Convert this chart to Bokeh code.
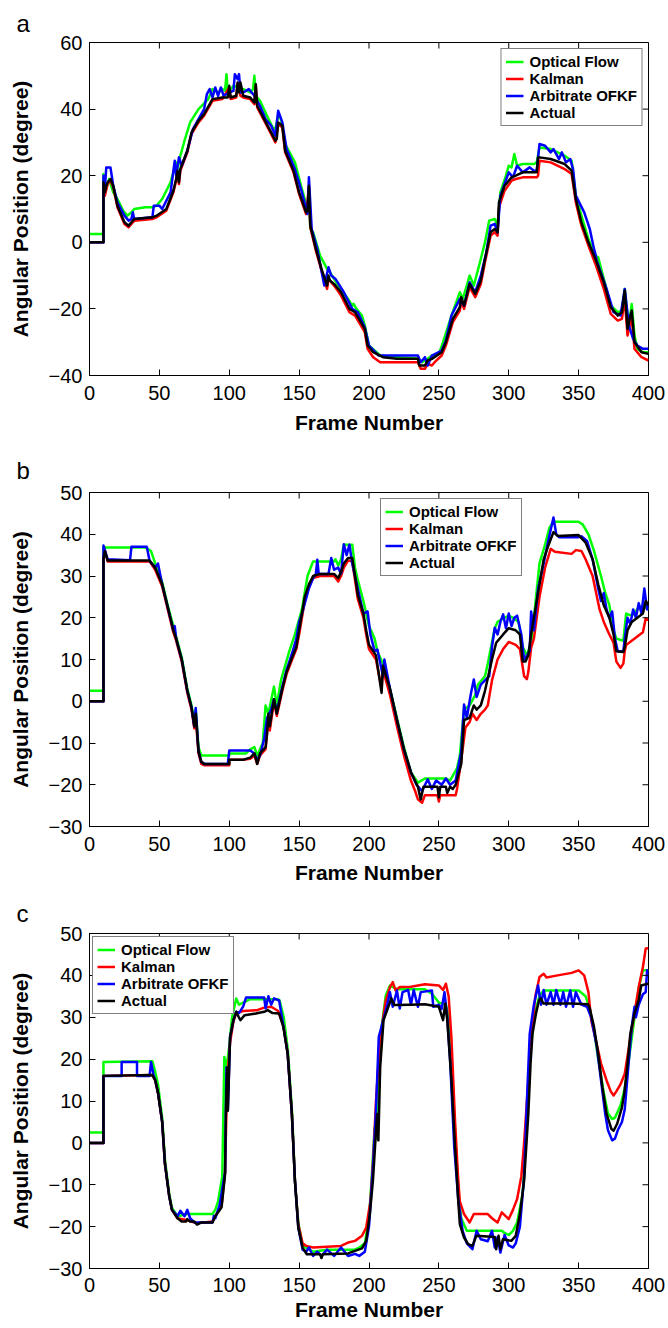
import math
from bokeh.plotting import figure
from bokeh.layouts import column
from bokeh.models import Range1d, FixedTicker, Legend, LegendItem
from bokeh.embed import file_html
from bokeh.resources import INLINE

FONT = "Liberation Sans"
SERIES = ["Optical Flow", "Kalman", "Arbitrate OFKF", "Actual"]
COLORS = ["#00ff00", "#ff0000", "#0000ff", "#000000"]
X_TICKS = [0, 50, 100, 150, 200, 250, 300, 350, 400]
A_Y_TICKS = [-40, -20, 0, 20, 40, 60]
BC_Y_TICKS = [-30, -20, -10, 0, 10, 20, 30, 40, 50]
X_LABEL = "Frame Number"
Y_LABEL = "Angular Position (degree)"

# ---------------- panel a (frame, degree) ----------------
a_optical_flow = [(0,2.5),(10,2.5),(10,20.5),(12,16),(14,19),(17,15),(20,13),(24,9.5),(27,8),(30,9),(32,10),(40,10.5),(45,10.5),(48,11),(52,13),(58,18),(62,24),(63,22),(65,26),(68,30.5),(72,36),(78,40),(85,43),(88,46),(92,45),(95,46),(97,45.5),(98,50.5),(99,45),(103,47),(110,46),(115,45),(117,46),(118,50),(119,44),(122,42.5),(127,38),(131,34.5),(133,34),(135,38),(137,37),(140,29.5),(147,24),(152,16),(156,10),(157,15),(158,4),(160,3),(165,-4),(170,-8),(172,-9),(175,-11),(180,-14),(185,-17),(188,-19),(189,-18.5),(191,-20),(195,-22),(197,-25),(200,-31),(208,-34),(220,-34.5),(235,-35),(238,-36),(242,-35),(245,-34),(250,-33.5),(253,-30),(259,-22),(265,-15),(267,-17),(270,-13),(272,-10),(275,-13),(280,-5),(283,0),(286,6.5),(290,7),(292,5),(294,15),(298,20),(300,23),(302,22.5),(304,26.5),(306,23),(310,23.5),(318,23.5),(320,24),(322,28.5),(330,28),(335,27),(340,26),(345,24.5),(348,14),(352,8),(357,1),(362,-4),(364,-4.5),(368,-11),(373,-19),(378,-21),(381,-20.5),(383,-14),(385,-22),(387,-22),(388,-18.5),(390,-28),(392,-32),(396,-33),(400,-33)]
a_kalman = [(0,0),(10,0),(10,17),(11,14),(13,17.5),(15,18.5),(17,16.5),(20,10.5),(25,5.5),(28,4.5),(32,6.5),(45,7),(48,7.5),(55,9.5),(60,15),(62,18.5),(63,21),(64,17.5),(65,21.5),(70,27),(73,32.5),(78,36),(82,38),(88,42.5),(95,43),(100,46.5),(101,43),(105,43.5),(106,47.5),(108,44),(110,43.5),(115,43),(118,41.5),(119,47),(120,40.5),(125,36.5),(130,32.5),(133,30),(135,35.5),(138,34.5),(140,27),(146,21),(150,14.5),(155,8.5),(157,16.5),(158,4.5),(162,-2.5),(166,-8.5),(170,-14),(171,-11),(175,-13),(180,-16),(186,-21),(190,-22),(197,-27),(199,-32),(203,-34.5),(208,-36),(220,-36),(235,-36),(237,-38),(240,-38),(242,-36.5),(245,-37),(247,-36),(252,-34),(255,-31),(260,-24),(265,-20.5),(266,-17.5),(268,-20),(272,-13.5),(276,-16.5),(280,-12.5),(283,-6),(287,2),(290,3),(292,2),(293,10.5),(297,15.5),(302,18.5),(305,19),(310,19.5),(320,19.5),(321,20),(322,24.5),(330,24),(340,22),(345,20.5),(348,12),(352,5),(357,-1),(362,-6.5),(368,-14),(373,-21.5),(378,-23.5),(381,-23),(383,-17),(385,-28),(387,-24),(388,-23),(390,-32),(395,-34.5),(400,-35.5)]
a_arbitrate = [(0,0),(10,0),(10,20),(11,16),(12,22.5),(15,22.5),(17,17),(20,12),(25,8),(28,6.5),(30,7),(31,9),(32,7),(45,7.5),(46,11),(50,11),(52,10),(58,15),(61,24.5),(62,20),(64,25.5),(66,23),(70,27.5),(74,34),(78,37),(82,40),(84,44.5),(86,46),(88,43.5),(90,46.5),(92,44),(94,46.5),(96,44),(100,45),(103,45.5),(104,50.5),(106,49),(107,50.5),(108,45),(110,45),(114,46),(118,44),(122,41),(126,37),(130,35),(133,32),(135,39.5),(138,36),(141,28),(147,22),(152,15),(156,8.5),(157,19.5),(159,4),(163,-2),(168,-13),(171,-7.5),(173,-10),(176,-11),(182,-15),(188,-20),(192,-21),(197,-25.5),(200,-31),(207,-34),(220,-34),(235,-34),(237,-36),(240,-34.5),(242,-37),(245,-34),(252,-32.5),(255,-29.5),(259,-22),(265,-17),(268,-19),(272,-12),(276,-15),(280,-10),(284,-3),(287,5),(290,5.5),(292,3),(294,14),(297,17.5),(300,21),(303,19.5),(306,23),(310,21),(315,22.5),(318,21.5),(320,21.5),(322,29.5),(326,29),(330,27),(332,28),(336,25),(338,27),(341,24),(344,25),(346,22),(348,14),(354,9),(358,4),(361,-2),(362,-3.5),(363,-5.5),(370,-14),(375,-21),(380,-22),(383,-14),(386,-25),(389,-29),(392,-31),(396,-32),(400,-32)]
a_actual = [(0,0),(10,0),(10,18),(11,15),(12,17),(13,18),(15,19),(17,17),(20,11),(25,6),(28,5),(32,7),(45,7.5),(48,8),(55,10),(60,15.5),(62,19),(63,21.5),(64,18),(65,22),(70,27.5),(73,33),(78,36.5),(82,38.5),(88,43),(95,43.5),(99,43.5),(100,47),(101,43.5),(105,44),(106,48),(107,45),(108,48),(110,44),(115,43.5),(118,42),(119,47.5),(120,41),(125,37),(130,33),(133,30.5),(134,31),(135,36),(138,35),(140,27.5),(146,21.5),(150,15),(155,9),(156,9.5),(157,17),(158,5),(162,-2),(166,-8),(170,-13),(171,-10),(172,-11.5),(175,-12.5),(180,-15),(186,-20),(190,-21),(197,-26),(199,-31),(203,-33),(210,-34.5),(220,-35),(235,-35),(236,-37),(240,-37),(242,-35.5),(245,-35),(252,-33),(255,-30),(260,-23),(265,-19.5),(266,-16.5),(268,-19),(272,-12.5),(276,-15.5),(280,-11.5),(283,-5),(287,3),(290,4),(292,3),(293,12),(297,17),(302,19.5),(305,20),(310,21),(320,21),(321,25.5),(322,25.5),(330,25),(340,23.5),(345,21.5),(348,13),(352,6),(357,0),(362,-5),(368,-12),(373,-19.5),(378,-22),(381,-21),(383,-14.5),(385,-26),(387,-22),(388,-20.5),(390,-30),(395,-33),(400,-33.5)]

# ---------------- panel b ----------------
b_optical_flow = [(0,2.5),(10,2.5),(10,37),(13,36.8),(40,36.8),(44,36),(47,33),(52,28.5),(56,23),(60,18),(62,15.5),(66,10.5),(70,3),(73,-1),(75,-5),(76,-2),(78,-11),(80,-13),(100,-13),(100,-12.5),(112,-12.5),(115,-11.5),(118,-11),(120,-13),(124,-10),(126,-1),(128,-3),(132,3.5),(134,-1),(137,5),(143,12),(147,16),(152,22),(156,30),(160,33.5),(175,33.5),(176,34),(178,32.5),(180,34),(182,37.5),(188,37.5),(190,32),(192,29),(196,24),(200,18),(204,15),(206,12),(210,9),(215,3),(220,-4),(225,-11),(230,-17),(235,-19.5),(240,-18.5),(255,-18.5),(258,-19),(263,-16),(265,-13),(268,-2),(272,-1),(276,1.5),(278,4),(283,6),(285,9),(290,17.5),(292,19),(297,20),(300,20.5),(303,20),(307,19),(310,13),(313,11),(316,14),(318,20),(322,33),(326,37.5),(329,41.5),(332,43),(350,43),(353,42.3),(357,40),(361,36),(366,30),(369,26),(372,23),(375,17),(377,15),(382,14.5),(384,21),(388,20.5),(392,22),(396,23),(400,22)]
b_kalman = [(0,0),(10,0),(10,34),(11,36),(13,33.5),(43,33.5),(47,31.5),(52,27.5),(56,22),(60,16.5),(62,14.5),(66,9.5),(70,2),(73,-2),(75,-6.5),(76,-4),(78,-12.5),(80,-15),(82,-15.3),(100,-15.3),(100,-14),(110,-14),(115,-13.8),(118,-13),(120,-15),(122,-13),(126,-11.5),(128,-4),(129,-7),(132,0),(134,-3.5),(138,2.5),(141,6.5),(145,10),(148,12.5),(150,16),(154,24),(157,27.5),(160,29.5),(165,30),(175,30),(178,28.7),(180,30),(182,32),(185,33.7),(188,33.5),(190,29),(192,24.5),(196,20),(198,16),(200,12.5),(205,10),(209,3),(210,7.5),(215,1.5),(220,-6),(225,-13),(230,-19),(233,-21.5),(235,-23.5),(238,-24.3),(240,-22.5),(249,-22.5),(250,-24),(251,-22.5),(262,-22.5),(263,-21),(266,-14),(269,-6.3),(272,-5),(274,-3),(277,-4.5),(280,-3),(283,-2),(285,-1),(288,5),(292,10),(296,12.5),(300,14.2),(305,13.5),(308,12.5),(311,6),(313,5.3),(314,7),(316,12.8),(318,15),(322,25),(326,32),(330,36.5),(333,35.8),(345,35.3),(348,36.2),(352,36),(355,34),(360,30),(365,22),(368,19),(372,16),(375,14),(377,9.5),(380,8),(382,9),(383,12),(384,13.5),(388,14.5),(392,15.5),(396,16.5),(398,19.8),(400,19.5)]
b_arbitrate = [(0,0),(10,0),(10,37.3),(13,34),(29,33.8),(30,37),(41,37),(43,33.6),(47,32),(49,33),(52,28),(56,22.5),(60,17),(61,18),(62,15),(66,10),(70,2.5),(73,-1.5),(75,-6),(76,-1.6),(78,-12),(80,-14.5),(82,-15),(99,-15),(100,-11.8),(115,-11.8),(118,-12.5),(120,-14),(122,-13),(125,-9),(127,-4),(130,-2),(132,0.5),(134,-2.5),(138,3.5),(141,7.5),(145,11.5),(148,15),(150,19),(152,21),(157,27),(160,29.5),(162,30.5),(163,33.9),(164,30.5),(171,30.5),(173,34.3),(175,31.5),(178,32),(180,30.5),(182,37.6),(184,35),(186,37.5),(188,33),(190,30),(192,27),(196,21),(199,21.5),(201,16),(204,12),(206,12.4),(210,6),(211,10),(215,3),(220,-4.5),(225,-11.5),(230,-17),(234,-20),(238,-21.5),(242,-18.7),(245,-21),(248,-19),(252,-20),(255,-18.5),(258,-20),(262,-19),(266,-12),(268,-0.8),(270,-4),(273,2),(275,5.2),(277,1),(280,4),(283,5),(286,6),(288,13),(290,17.6),(292,16),(294,19),(296,20.8),(298,17.5),(300,21),(302,18),(304,20),(306,20.5),(309,16),(311,10),(313,11),(315,12),(316,21.5),(318,17),(321,27),(325,33),(328,38),(332,44),(334,40),(336,39.3),(350,39.3),(352,39.5),(356,38.4),(360,34),(364,27),(366,24),(368,25.9),(370,22),(372,20),(374,21.5),(376,15),(378,12),(382,12),(383,15),(385,20),(387,18.5),(389,22),(391,20),(393,23.5),(395,21),(397,27),(399,22),(400,23)]
b_actual = [(0,0),(10,0),(10,34),(11,36),(13,33.7),(43,33.7),(47,32),(52,28),(56,22.5),(60,17),(62,15),(66,10),(70,2.5),(73,-1.5),(75,-6),(76,-3),(78,-12),(80,-14.5),(82,-15),(100,-15),(100,-14),(110,-14),(115,-13.5),(118,-12.5),(120,-15),(122,-12.5),(126,-11),(127,-8),(128,-3),(129,-6),(132,0.5),(134,-3),(138,3),(141,7),(145,10.5),(148,13),(150,17),(154,25),(157,28),(160,30),(165,30.5),(175,30.5),(178,29.5),(180,31),(182,33),(185,34.3),(188,34.3),(190,30),(192,25.5),(196,21),(198,17),(200,13.5),(205,11),(209,2),(210,8.5),(215,3),(220,-4.5),(225,-11.5),(230,-17),(235,-20.5),(237,-23.5),(239,-20.5),(249,-20.5),(250,-23),(251,-20.5),(255,-20.5),(256,-22),(258,-20.5),(260,-21),(262,-20),(266,-15),(268,-4.5),(272,-4),(275,-1),(277,-2),(280,-1),(283,2.5),(286,7),(288,10),(291,14),(296,16),(300,17.5),(305,17),(308,16),(310,9.5),(312,9.5),(314,11),(316,16),(318,20),(322,28),(325,34),(328,37),(332,40.5),(335,39.6),(350,39.8),(355,38),(360,34),(364,28),(368,23),(372,20),(375,16),(377,12),(382,11.8),(383,13),(385,17),(388,19),(392,20),(396,21),(398,24),(400,23)]

# ---------------- panel c ----------------
c_optical_flow = [(0,2.5),(10,2.5),(10,19.3),(45,19.5),(47,17),(49,14),(52,6),(54,-4),(57,-12),(59,-15.5),(63,-17.5),(70,-17),(88,-17),(90,-16),(92,-14),(95,-8),(96.5,20.5),(98,18),(100,23),(102,30),(105,34.5),(107,33),(110,33.5),(115,34.3),(135,34.3),(136,34),(139,30),(142,22),(145,7),(147,-9),(149.4,-19),(152.5,-24.5),(155,-25),(160,-26),(170,-25.5),(190,-25.5),(193,-25),(197,-24),(200,-18),(202,-8),(204,3.7),(205,1),(206,10),(208,25),(212,35.2),(215,37.6),(218,37),(220,36.7),(240,36.7),(245,35.6),(250,33.5),(255,33),(257,30),(259,20),(262,0),(264,-12),(266,-18),(270,-21),(295,-21),(297,-21.5),(300,-22),(303,-21),(306,-19),(310,-12),(312,0),(315,20),(318,30),(322,35.2),(325,36.4),(350,36.4),(355,35),(358,32),(361,27),(364,20),(368,12),(371,7),(374,5.7),(376,6),(380,9),(383,13),(386,20),(390,30),(393,37),(396,41.2),(400,41.2)]
c_kalman = [(0,0),(10,0),(10,16),(45,16.2),(47,15),(49,12),(52,5),(54,-5),(57,-12.6),(59,-16),(63,-18),(70,-18.5),(77,-19.2),(88,-18.8),(90,-17.5),(94.5,-15),(97,-7),(98.5,15),(100.6,24),(103,29),(105,31),(110,31.5),(120,31.7),(125,32.3),(130,32.5),(135,31.5),(138.7,28),(141.8,21.5),(144.8,7),(147,-9),(149.4,-19.5),(152.5,-24),(155,-24.6),(160,-25),(180,-24.6),(185,-23.8),(190,-23.4),(195,-22.2),(198,-20.2),(201,-14),(203,-4),(205,10),(208,25),(212,34),(215,37.2),(217,38.4),(219,36.4),(222,37.2),(230,37.3),(240,37.9),(250,37.6),(253,36.5),(255,38),(257,35),(259,25),(261.6,5),(263.7,-8),(265,-14),(268,-17),(272,-19),(275,-17),(285,-17),(288,-18),(292,-19),(295,-16.6),(300,-18.2),(303,-16),(306,-13.4),(309,-8),(311,0),(313,10),(316,25),(319,35),(322,39.6),(325,40.4),(327,39.5),(335,40),(345,40.6),(350,41.2),(354,40),(357,36),(359,29.3),(362,25),(366,19),(370,14.9),(373,12.3),(375,11.3),(377,12.3),(380,14),(383,16.5),(387,25),(390,31),(393,37.2),(396,42),(398,46.4),(400,46.5)]
c_arbitrate = [(0,0),(10,0),(10,16),(23,16),(23,19.3),(34,19.3),(34,16),(43,16),(44,19.3),(46,16),(47,15),(49,12),(52,5),(54,-5),(57,-12.6),(59,-16),(63,-17.5),(65,-16.2),(68,-17.5),(70,-16),(72,-18),(75,-19),(88,-19),(89,-17.4),(90,-18),(93,-15),(97,-7),(98,18),(99,8),(100.6,25.3),(103,29.3),(105,31.3),(107,31),(110,32.6),(112,34.7),(125,34.7),(126,32.1),(128,35),(130,33),(132,34.5),(135.7,34),(138.7,28),(141.8,21.3),(144.8,6.9),(147,-9),(149.4,-20.2),(152.5,-25.5),(155,-26),(157,-25),(160,-27),(163,-26),(166,-27),(170,-25.5),(175,-27),(180,-25),(185,-27),(190,-26.5),(193,-27),(197,-26),(200,-20),(203,-5),(205,8),(207,25.3),(210,29),(213,33),(215,36),(217,32.5),(220,36.4),(222,32.1),(224,36),(228,36.5),(230,33),(232,36.5),(235,32.5),(237,36),(245,36.4),(246,32.5),(250,33),(252,32),(254,36),(256,30),(258,20),(261,-1),(264,-14),(267,-21),(270,-24),(274,-25.4),(277,-21),(280,-23),(285,-23.5),(288,-21),(290,-25),(292,-22.5),(294,-26.2),(297,-22),(300,-24.5),(303,-25),(305,-24),(308,-20),(311,-8),(313,10),(315,26),(318,33),(321,37.6),(323,33),(325,36.5),(327,33),(330,36),(332,33),(334,36.5),(337,33),(339,36),(341,32.5),(344,36.4),(346,32.5),(348,36),(352,33),(356,32.5),(359,30),(363,23),(366,15),(369,7),(371,3),(374,0.6),(376,1),(378,3),(381,5),(383,8),(385,16),(388,27.7),(390,32.5),(391,30),(393,33),(396,35.5),(398,36),(399,41.2),(400,40)]
c_actual = [(0,0),(10,0),(10,16),(45,16.2),(47,15),(49,12),(52,5),(54,-5),(57,-12.6),(59,-16),(63,-18),(66,-18.8),(69,-18.8),(70,-18.2),(72,-18.8),(75,-18.8),(77,-19.5),(80,-19),(88,-19),(90,-17.5),(94.5,-15.4),(97,-7.5),(97.6,7.7),(98.5,18),(99,7.7),(100.6,25.3),(103,29.3),(105,31.3),(106.7,30.1),(108,29.3),(111,30.5),(119,30.9),(125,31.3),(127.5,31.7),(131,31),(135.7,30.9),(138.7,27.7),(141.8,21.3),(144.8,6.9),(147,-9),(149.4,-20.2),(152.5,-25),(155.5,-26.6),(165,-26.6),(166,-27.5),(167,-26.6),(185,-26.4),(190,-25.8),(195,-25.2),(198,-23.4),(200.6,-17),(202.8,-9),(204.3,-1),(205.8,6.9),(206.7,0.6),(208,18.1),(210.4,29.3),(213.4,32.1),(216,34.5),(218,32.9),(230,33),(240,33.1),(250,32.5),(253,29.3),(254.6,33.3),(256,29.3),(259,14.9),(261.6,-1),(263.7,-13),(265,-19.4),(268,-22.6),(271,-24.2),(274,-24.6),(276.8,-22.2),(290,-22.5),(291,-25.4),(292.7,-22.2),(294,-25.4),(295.8,-23),(301.8,-23.4),(305,-22.2),(308,-17),(311,-9),(314,6.9),(315.6,18.9),(317,26.1),(319.5,30.9),(321.7,34.1),(323,34.5),(324.7,33.3),(345,33.3),(356.7,33.1),(358,32.1),(361,27.7),(364,21.3),(367,13.3),(370,6.9),(373.5,3.3),(375,2.9),(377.5,4.5),(381,8.5),(382.6,11.7),(384.8,18.1),(387,26.1),(390,30.9),(393,34.1),(394.8,37.6),(399.4,38),(400,38)]


def make_panel(letter, series, y_range, y_ticks, frame_h, top, bottom,
               tick_standoff, xlab_standoff, title_standoff,
               legend_loc, legend_margin):
    p = figure(frame_width=559, frame_height=frame_h,
               min_border_left=89, min_border_right=20,
               min_border_top=top, min_border_bottom=bottom,
               x_range=Range1d(0, 400), y_range=Range1d(*y_range),
               output_backend="svg", toolbar_location=None,
               background_fill_color="white", border_fill_color="white")
    p.grid.visible = False
    p.outline_line_color = "black"
    p.outline_line_width = 1

    # panel letter
    p.title.text = letter
    p.title.align = "left"
    p.title.offset = -73
    p.title.standoff = title_standoff
    p.title.text_font = FONT
    p.title.text_font_size = "24px"
    p.title.text_font_style = "normal"
    p.title.text_color = "black"

    items = []
    for name, color, pts in zip(SERIES, COLORS, series):
        xs = [q[0] for q in pts]
        ys = [q[1] for q in pts]
        r = p.line(xs, ys, line_color=color, line_width=2.5, line_join="round")
        items.append(LegendItem(label=name, renderers=[r]))

    # mirrored inward ticks on the top and right edges (clipped to the frame)
    p.scatter(X_TICKS, [y_range[1]] * len(X_TICKS), marker="dash", size=12,
              angle=math.pi / 2, line_color="black", line_width=1)
    p.scatter([400] * len(y_ticks), y_ticks, marker="dash", size=12,
              line_color="black", line_width=1)

    for ax in (p.xaxis[0], p.yaxis[0]):
        ax.axis_line_color = "black"
        ax.major_tick_line_color = "black"
        ax.major_tick_in = 6
        ax.major_tick_out = 0
        ax.minor_tick_line_color = None
        ax.major_label_text_font = FONT
        ax.major_label_text_font_size = "20px"
        ax.major_label_text_color = "black"
        ax.axis_label_text_font = FONT
        ax.axis_label_text_font_size = "21px"
        ax.axis_label_text_font_style = "bold"
        ax.axis_label_text_color = "black"
    p.xaxis[0].ticker = FixedTicker(ticks=X_TICKS)
    p.yaxis[0].ticker = FixedTicker(ticks=y_ticks)
    p.xaxis[0].axis_label = X_LABEL
    p.yaxis[0].axis_label = Y_LABEL
    p.xaxis[0].major_label_standoff = tick_standoff
    p.xaxis[0].axis_label_standoff = xlab_standoff
    p.yaxis[0].major_label_standoff = 7
    p.yaxis[0].axis_label_standoff = 14

    leg = Legend(items=items, location=legend_loc, margin=legend_margin,
                 padding=4, spacing=0, glyph_width=18, glyph_height=15,
                 label_height=15, label_standoff=6,
                 label_text_font=FONT, label_text_font_size="15px",
                 label_text_font_style="bold", label_text_color="black",
                 border_line_color="black", border_line_width=1.5,
                 background_fill_color="white", background_fill_alpha=1)
    p.add_layout(leg)
    return p


pa = make_panel("a", [a_optical_flow, a_kalman, a_arbitrate, a_actual],
                (-40, 60), A_Y_TICKS, 333, 42, 67, 10, 8, 12, "top_right", 6)
pb = make_panel("b", [b_optical_flow, b_kalman, b_arbitrate, b_actual],
                (-30, 50), BC_Y_TICKS, 334, 50, 64, 10, 7, 18, (291, 250), 0)
pc = make_panel("c", [c_optical_flow, c_kalman, c_arbitrate, c_actual],
                (-30, 50), BC_Y_TICKS, 335, 43, 58, 9, 3, 13, "top_left", 3)

layout = column(pa, pb, pc, spacing=0)
open("out.html", "w").write(file_html(layout, INLINE))
